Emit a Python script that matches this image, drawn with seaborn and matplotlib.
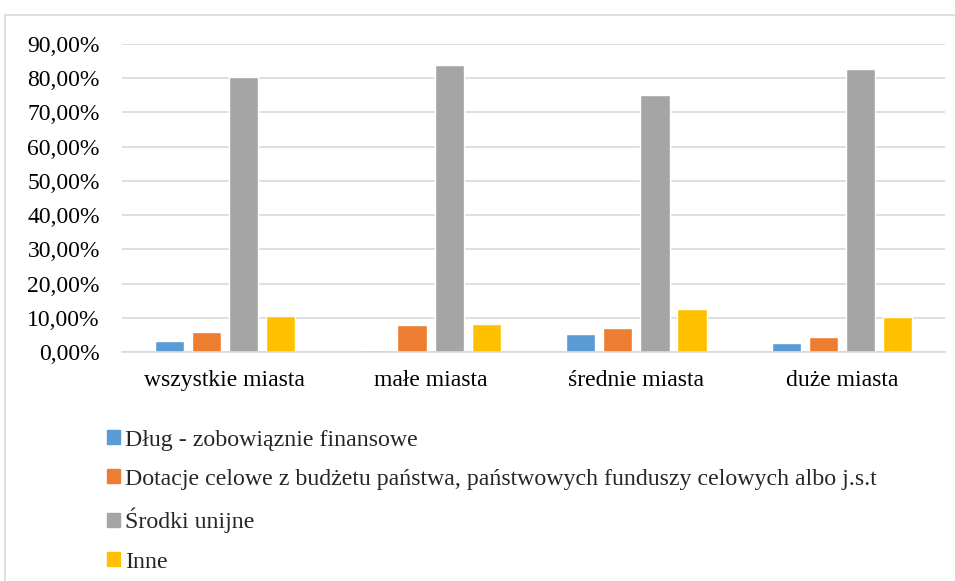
import pandas as pd
import seaborn as sns
import matplotlib.pyplot as plt
from matplotlib.patches import Rectangle
from matplotlib.ticker import FuncFormatter

# Data (percent)
categories = ["wszystkie miasta", "małe miasta", "średnie miasta", "duże miasta"]
series = [
    "Dług - zobowiąznie finansowe",
    "Dotacje celowe z budżetu państwa, państwowych funduszy celowych albo j.s.t",
    "Środki unijne",
    "Inne",
]
dlug = [3.3, 0.6, 5.4, 2.7]
dotacje = [5.7, 7.8, 7.0, 4.5]
srodki_unijne = [80.3, 83.8, 75.2, 82.8]
inne = [10.6, 8.1, 12.5, 10.1]
colors = ["#5B9BD5", "#ED7D31", "#A5A5A5", "#FFC000"]

rows = []
for name, vals in zip(series, [dlug, dotacje, srodki_unijne, inne]):
    for cat, v in zip(categories, vals):
        rows.append({"kategoria": cat, "seria": name, "wartosc": v})
df = pd.DataFrame(rows)

sns.set_style("white")
plt.rcParams["font.family"] = ["Liberation Serif", "DejaVu Serif"]

fig = plt.figure(figsize=(9.55, 5.81), dpi=100)
ax = fig.add_axes([122 / 955, 1 - 352 / 581, 823 / 955, 308 / 581])

sns.barplot(data=df, x="kategoria", y="wartosc", hue="seria", order=categories,
            hue_order=series, palette=colors, width=0.72, gap=0.21,
            saturation=1, ax=ax, legend=False)

ax.set_ylim(0, 90)
ax.set_yticks(range(0, 91, 10))
ax.yaxis.set_major_formatter(FuncFormatter(lambda v, p: f"{v:.2f}%".replace(".", ",")))
ax.yaxis.grid(True, color="#d9d9d9", linewidth=1.2)
ax.set_axisbelow(True)
for s in ["top", "right", "left"]:
    ax.spines[s].set_visible(False)
ax.spines["bottom"].set_color("#d9d9d9")
ax.spines["bottom"].set_linewidth(1.2)
ax.tick_params(axis="both", length=0, labelsize=17, colors="black")
ax.tick_params(axis="x", pad=13)
ax.tick_params(axis="y", pad=16)
ax.set_xlabel("")
ax.set_ylabel("")

handles = [Rectangle((0, 0), 1, 1, color=c) for c in colors]
fig.legend(handles, series, loc="upper left", bbox_to_anchor=(0.102, 1 - 420 / 581),
           frameon=False, fontsize=17.2, handlelength=0.55, handleheight=0.55,
           handletextpad=0.2, labelspacing=0.76, borderaxespad=0)

# light chart-area border (only top and left visible)
fig.patches.append(Rectangle((5 / 955, -0.1), 1.2, 1.1 - 15 / 581, transform=fig.transFigure,
                             fill=False, edgecolor="#d9d9d9", linewidth=1.2))

fig.savefig("out.png", dpi=100)
